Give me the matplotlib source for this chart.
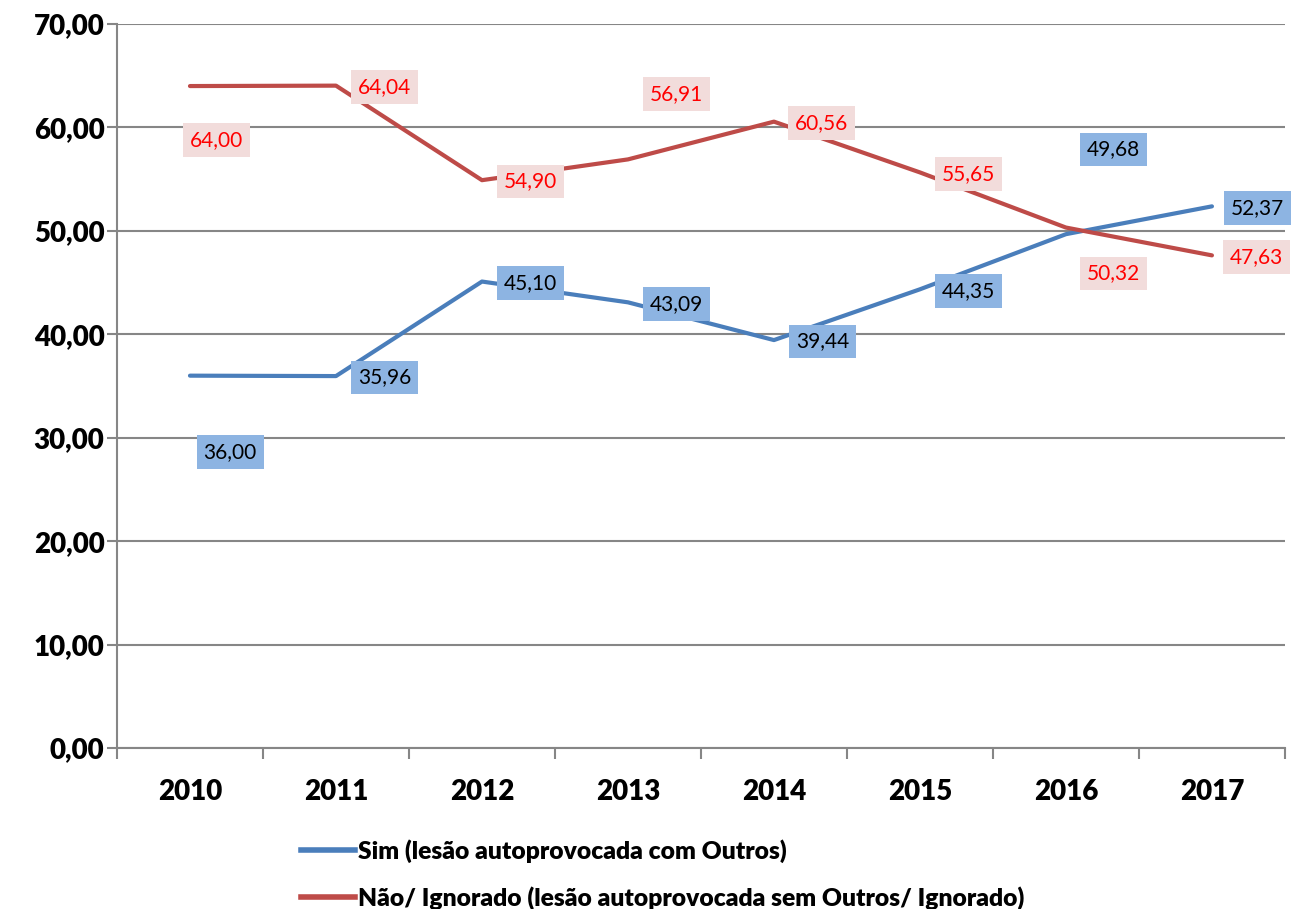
import matplotlib.pyplot as plt
from matplotlib.lines import Line2D

plt.rcParams['font.family'] = ['Lato', 'DejaVu Sans']

# ========== Data ==========
years = ["2010", "2011", "2012", "2013", "2014", "2015", "2016", "2017"]
sim = [36.00, 35.96, 45.10, 43.09, 39.44, 44.35, 49.68, 52.37]
nao = [64.00, 64.04, 54.90, 56.91, 60.56, 55.65, 50.32, 47.63]
sim_name = "Sim (lesão autoprovocada com Outros)"
nao_name = "Não/ Ignorado (lesão autoprovocada sem Outros/ Ignorado)"

# label offsets (points) relative to each data point
sim_off = [(29, -55), (35, -1), (35, -1), (35, -1), (35, -1), (35, -1), (34, 61), (33, -1)]
nao_off = [(19, -39), (35, -1), (35, -1), (35, 47), (34, -1), (35, -1), (34, -33), (32, -1)]

blue = "#4A7EBB"
red = "#BE4B48"

fig = plt.figure(figsize=(12.94, 9.09), dpi=100)
ax = fig.add_axes([0.0904, 0.1771, 0.9026, 0.7965])

x = list(range(len(years)))
ax.plot(x, sim, color=blue, lw=3, solid_capstyle="round", solid_joinstyle="round", zorder=3)
ax.plot(x, nao, color=red, lw=3, solid_capstyle="round", solid_joinstyle="round", zorder=3)

def fmt(v):
    return f"{v:.2f}".replace(".", ",")

for xi, v, off in zip(x, sim, sim_off):
    ax.annotate(fmt(v), (xi, v), xytext=off, textcoords="offset points",
                ha="center", va="center", fontsize=15, color="black", zorder=4,
                bbox=dict(boxstyle="square,pad=0.33", fc="#8DB4E2", ec="none"))
for xi, v, off in zip(x, nao, nao_off):
    ax.annotate(fmt(v), (xi, v), xytext=off, textcoords="offset points",
                ha="center", va="center", fontsize=15, color="#FF0000", zorder=4,
                bbox=dict(boxstyle="square,pad=0.33", fc="#F2DCDB", ec="none"))

ax.set_ylim(0, 70)
ax.set_yticks(range(0, 71, 10))
ax.set_yticklabels([fmt(v) for v in range(0, 71, 10)], fontsize=20, fontweight="heavy")
ax.set_xlim(-0.5, len(years) - 0.5)
ax.set_xticks([i - 0.5 for i in range(len(years) + 1)])
ax.set_xticklabels([])
ax.set_xticks(x, minor=True)
ax.set_xticklabels(years, minor=True, fontsize=20, fontweight="heavy")
ax.tick_params(axis="x", which="major", length=8, color="#868686", width=1.5)
ax.tick_params(axis="x", which="minor", length=0, pad=22)
ax.tick_params(axis="y", length=7, color="#868686", width=1.5, pad=2)

ax.grid(axis="y", color="#868686", lw=1.5)
ax.set_axisbelow(True)
for s in ["top", "right"]:
    ax.spines[s].set_visible(False)
for s in ["left", "bottom"]:
    ax.spines[s].set_color("#868686")
    ax.spines[s].set_linewidth(1.5)

handles = [Line2D([], [], color=blue, lw=4), Line2D([], [], color=red, lw=4)]
fig.legend(handles, [sim_name, nao_name], loc="upper left",
           bbox_to_anchor=(0.225, 0.088), frameon=False,
           prop={"weight": "heavy", "size": 17.7}, handlelength=2.2, handletextpad=0.1,
           labelspacing=0.95, borderaxespad=0)

fig.savefig("out.png", dpi=100)
